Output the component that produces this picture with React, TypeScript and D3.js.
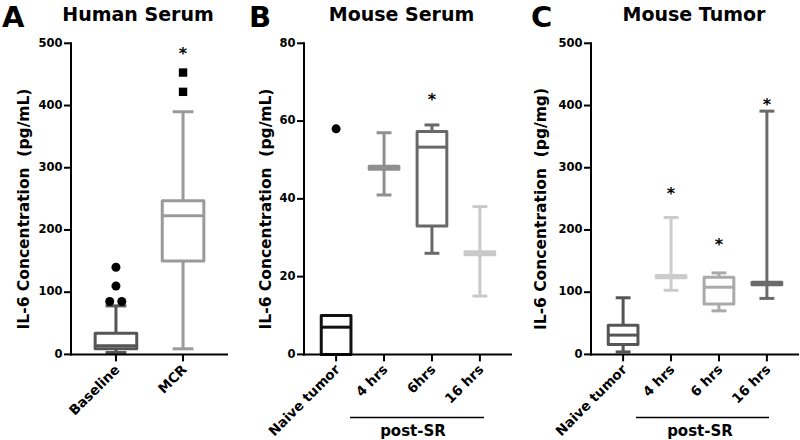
import React from "react";
import * as d3 from "d3";

// ---------- Panel A: Human Serum ----------
const humanCategories = ["Baseline", "MCR"];
const humanMin = [3, 9];
const humanQ1 = [9, 150];
const humanMedian = [14, 223];
const humanQ3 = [34, 247];
const humanMax = [78, 390];
const humanOutlierCat = ["Baseline", "Baseline", "Baseline", "Baseline", "MCR", "MCR"];
const humanOutlierValue = [140, 110, 85, 85, 453, 422];
const humanStarCat = ["MCR"];
const humanStarValue = [489];
const humanTicks = [0, 100, 200, 300, 400, 500];

// ---------- Panel B: Mouse Serum ----------
const mouseCategories = ["Naive tumor", "4 hrs", "6hrs", "16 hrs"];
const serumMin = [0, 41, 26, 15];
const serumQ1 = [0, 47.6, 33, 25.6];
const serumMedian = [7, 48, 53.3, 26];
const serumQ3 = [10, 48.4, 57.3, 26.4];
const serumMax = [10, 57, 59, 38];
const serumOutlierCat = ["Naive tumor"];
const serumOutlierValue = [58];
const serumStarCat = ["6hrs"];
const serumStarValue = [66.3];
const serumTicks = [0, 20, 40, 60, 80];

// ---------- Panel C: Mouse Tumor ----------
const tumorCategories = ["Naive tumor", "4 hrs", "6 hrs", "16 hrs"];
const tumorMin = [4, 103, 70, 90];
const tumorQ1 = [16, 123, 81, 112];
const tumorMedian = [31, 125, 108, 114];
const tumorQ3 = [47, 127, 124, 116];
const tumorMax = [91, 220, 131, 391];
const tumorStarCat = ["4 hrs", "6 hrs", "16 hrs"];
const tumorStarValue = [263, 181, 407];
const tumorTicks = [0, 100, 200, 300, 400, 500];

const FONT = "'DejaVu Sans', 'Liberation Sans', Arial, sans-serif";
const Y_TOP = 43.3;
const Y_BOTTOM = 354.4;

type PanelProps = {
  letter: string;
  letterX: number;
  title: string;
  titleX: number;
  yLabel: string;
  yLabelX: number;
  axisX0: number;
  axisX1: number;
  yMax: number;
  ticks: number[];
  cats: string[];
  mins: number[];
  q1s: number[];
  meds: number[];
  q3s: number[];
  maxs: number[];
  colors: string[];
  outCats: string[];
  outVals: number[];
  outShape: string[];
  outJitter: number[];
  starCats: string[];
  starVals: number[];
  postSR?: { x0: number; x1: number; textX: number };
};

function Panel(p: PanelProps) {
  const y = d3.scaleLinear().domain([0, p.yMax]).range([Y_BOTTOM, Y_TOP]);
  const x = d3.scalePoint<string>().domain(p.cats).range([p.axisX0, p.axisX1]).padding(0.67);
  const step = x.step();
  const boxW = step * 0.62;
  const capW = boxW / 2;
  return (
    <g>
      <text x={p.letterX} y={27} fontFamily={FONT} fontWeight="bold" fontSize={29} fill="#000">
        {p.letter}
      </text>
      <text x={p.titleX} y={20.5} textAnchor="middle" fontFamily={FONT} fontWeight="bold" fontSize={19} fill="#000">
        {p.title}
      </text>
      <text
        transform={`translate(${p.yLabelX},209) rotate(-90)`}
        textAnchor="middle"
        fontFamily={FONT}
        fontWeight="bold"
        fontSize={15.5}
        fill="#000"
        style={{ whiteSpace: "pre" }}
      >
        {p.yLabel}
      </text>
      {/* boxes */}
      {p.cats.map((c, i) => {
        const cx = x(c)!;
        const col = p.colors[i];
        return (
          <g key={c} stroke={col} strokeWidth={3} fill="none" strokeLinejoin="round">
            <line x1={cx} x2={cx} y1={y(p.q3s[i])} y2={y(p.maxs[i])} />
            <line x1={cx} x2={cx} y1={y(p.q1s[i])} y2={y(p.mins[i])} />
            <line x1={cx - capW / 2} x2={cx + capW / 2} y1={y(p.maxs[i])} y2={y(p.maxs[i])} />
            <line x1={cx - capW / 2} x2={cx + capW / 2} y1={y(p.mins[i])} y2={y(p.mins[i])} />
            <rect
              x={cx - boxW / 2}
              y={y(p.q3s[i])}
              width={boxW}
              height={Math.max(0, y(p.q1s[i]) - y(p.q3s[i]))}
              fill="#fff"
            />
            <line x1={cx - boxW / 2} x2={cx + boxW / 2} y1={y(p.meds[i])} y2={y(p.meds[i])} />
          </g>
        );
      })}
      {/* outliers */}
      {p.outVals.map((v, i) => {
        const cx = x(p.outCats[i])! + p.outJitter[i] * boxW;
        const cy = y(v);
        return p.outShape[i] === "square" ? (
          <rect key={i} x={cx - 4.2} y={cy - 4.2} width={8.4} height={8.4} fill="#000" />
        ) : (
          <circle key={i} cx={cx} cy={cy} r={4.5} fill="#000" />
        );
      })}
      {/* stars */}
      {p.starVals.map((v, i) => (
        <text
          key={i}
          x={x(p.starCats[i])!}
          y={y(v) + 8.5}
          textAnchor="middle"
          fontFamily={FONT}
          fontWeight="bold"
          fontSize={16}
          fill="#000"
        >
          *
        </text>
      ))}
      {/* axes */}
      <line x1={p.axisX0} x2={p.axisX0} y1={Y_TOP - 1} y2={Y_BOTTOM + 1} stroke="#000" strokeWidth={2} />
      <line x1={p.axisX0 - 1} x2={p.axisX1} y1={Y_BOTTOM} y2={Y_BOTTOM} stroke="#000" strokeWidth={2} />
      {p.ticks.map((t) => (
        <g key={t}>
          <line x1={p.axisX0 - 7} x2={p.axisX0} y1={y(t)} y2={y(t)} stroke="#000" strokeWidth={2} />
          <text
            x={p.axisX0 - 8.5}
            y={y(t) + 3.2}
            textAnchor="end"
            fontFamily={FONT}
            fontWeight="bold"
            fontSize={11.5}
            fill="#000"
          >
            {t}
          </text>
        </g>
      ))}
      {p.cats.map((c) => (
        <g key={c}>
          <line x1={x(c)!} x2={x(c)!} y1={Y_BOTTOM} y2={Y_BOTTOM + 7} stroke="#000" strokeWidth={2} />
          <text
            transform={`translate(${x(c)! + 4.5},${Y_BOTTOM + 16}) rotate(-45)`}
            textAnchor="end"
            fontFamily={FONT}
            fontWeight="bold"
            fontSize={13.5}
            fill="#000"
          >
            {c}
          </text>
        </g>
      ))}
      {p.postSR && (
        <g>
          <line x1={p.postSR.x0} x2={p.postSR.x1} y1={417.5} y2={417.5} stroke="#000" strokeWidth={1.5} />
          <text
            x={p.postSR.textX}
            y={436}
            textAnchor="middle"
            fontFamily={FONT}
            fontWeight="bold"
            fontSize={15}
            fill="#000"
          >
            post-SR
          </text>
        </g>
      )}
    </g>
  );
}

export default function App() {
  return (
    <svg
      width={800}
      height={440}
      viewBox="0 0 800 440"
      style={{ position: "absolute", left: 0, top: 0, background: "#fff" }}
    >
      <rect x={0} y={0} width={800} height={440} fill="#fff" />
      <Panel
        letter="A"
        letterX={2}
        title="Human Serum"
        titleX={138}
        yLabel="IL-6 Concentration  (pg/mL)"
        yLabelX={28.5}
        axisX0={71}
        axisX1={228}
        yMax={500}
        ticks={humanTicks}
        cats={humanCategories}
        mins={humanMin}
        q1s={humanQ1}
        meds={humanMedian}
        q3s={humanQ3}
        maxs={humanMax}
        colors={["#555555", "#9a9a9a"]}
        outCats={humanOutlierCat}
        outVals={humanOutlierValue}
        outShape={["circle", "circle", "circle", "circle", "square", "square"]}
        outJitter={[0, 0, -0.15, 0.14, 0, 0]}
        starCats={humanStarCat}
        starVals={humanStarValue}
      />
      <Panel
        letter="B"
        letterX={249}
        title="Mouse Serum"
        titleX={401.5}
        yLabel="IL-6 Concentration  (pg/mL)"
        yLabelX={270.5}
        axisX0={304}
        axisX1={512}
        yMax={80}
        ticks={serumTicks}
        cats={mouseCategories}
        mins={serumMin}
        q1s={serumQ1}
        meds={serumMedian}
        q3s={serumQ3}
        maxs={serumMax}
        colors={["#111111", "#8f8f8f", "#686868", "#c9c9c9"]}
        outCats={serumOutlierCat}
        outVals={serumOutlierValue}
        outShape={["circle"]}
        outJitter={[0]}
        starCats={serumStarCat}
        starVals={serumStarValue}
        postSR={{ x0: 350, x1: 484, textX: 413 }}
      />
      <Panel
        letter="C"
        letterX={531}
        title="Mouse Tumor"
        titleX={694}
        yLabel="IL-6 Concentration  (pg/mg)"
        yLabelX={546}
        axisX0={591}
        axisX1={799}
        yMax={500}
        ticks={tumorTicks}
        cats={tumorCategories}
        mins={tumorMin}
        q1s={tumorQ1}
        meds={tumorMedian}
        q3s={tumorQ3}
        maxs={tumorMax}
        colors={["#555555", "#cccccc", "#aaaaaa", "#6a6a6a"]}
        outCats={[]}
        outVals={[]}
        outShape={[]}
        outJitter={[]}
        starCats={tumorStarCat}
        starVals={tumorStarValue}
        postSR={{ x0: 636, x1: 769, textX: 700 }}
      />
    </svg>
  );
}
